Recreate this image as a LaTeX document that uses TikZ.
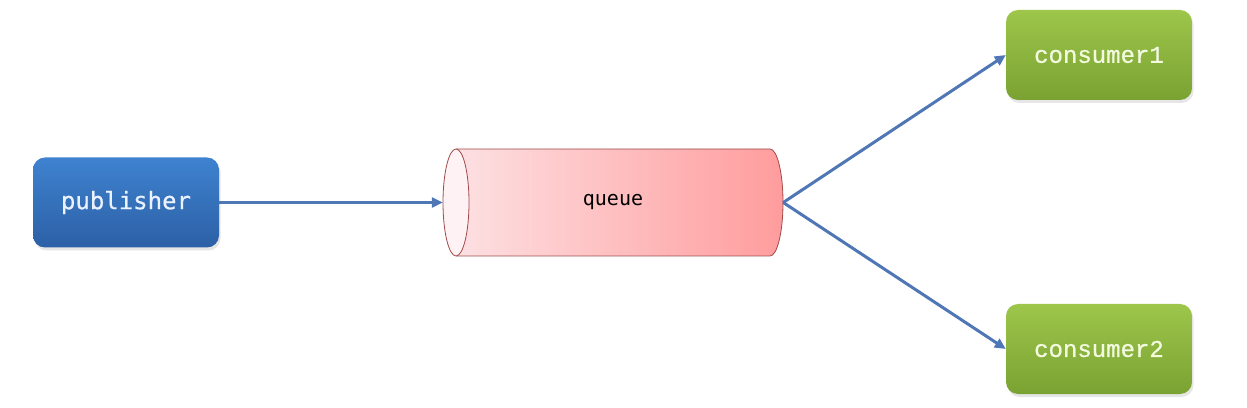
\documentclass[tikz,border=0pt]{standalone}
\usepackage{fontspec}
\usetikzlibrary{arrows.meta,shadows}
\newfontfamily\pubfont[FakeBold=0.5]{DejaVu Sans Mono}
\newfontfamily\queuefont{DejaVu Sans Mono}
\newfontfamily\consfont[FakeBold=0.8]{Liberation Mono}
\definecolor{pubtop}{HTML}{3F82CF}
\definecolor{pubbot}{HTML}{2C60A6}
\definecolor{constop}{HTML}{9DC64B}
\definecolor{consbot}{HTML}{7AA232}
\definecolor{arrowc}{HTML}{4F76B5}
\definecolor{qleft}{HTML}{FDE3E5}
\definecolor{qright}{HTML}{FF9C9D}
\definecolor{qborder}{HTML}{A04A4A}
\definecolor{qend}{HTML}{FFF2F4}
\definecolor{pubtext}{HTML}{EAF2FF}
\definecolor{constext}{HTML}{F3FAE0}
\tikzset{
  box/.style={rounded corners=12pt, minimum width=186pt, minimum height=90pt,
    drop shadow={opacity=0.2, shadow xshift=1.5pt, shadow yshift=-3pt}},
  pubbox/.style={box, top color=pubtop, bottom color=pubbot, text=pubtext,
    font=\pubfont\fontsize{24}{28}\selectfont},
  consbox/.style={box, top color=constop, bottom color=consbot, text=constext,
    font=\consfont\fontsize{24}{28}\selectfont},
  flow/.style={draw=arrowc, line width=3pt, -{Triangle[length=11pt,width=10pt]}}
}
\begin{document}
\begin{tikzpicture}[x=1pt,y=1pt]
\useasboundingbox (0,0) rectangle (1247,407);
% queue cylinder
\shade[left color=qleft, right color=qright]
  (456,258) -- (770,258) arc[start angle=90,end angle=-90,x radius=13pt,y radius=53.5pt]
  -- (456,151) arc[start angle=270,end angle=90,x radius=13pt,y radius=53.5pt] -- cycle;
\draw[qborder, line width=0.8pt]
  (456,258) -- (770,258) arc[start angle=90,end angle=-90,x radius=13pt,y radius=53.5pt]
  -- (456,151);
\draw[qborder, line width=0.8pt, fill=qend] (456,204.5) ellipse[x radius=13pt, y radius=53.5pt];
\node[minimum width=340pt, minimum height=107pt, inner sep=0pt,
  font=\queuefont\fontsize{20}{24}\selectfont] (queue) at (613,204.5) {queue};
% boxes
\node[pubbox] (pub) at (126,204.5) {publisher};
\node[consbox] (c1) at (1099,352) {consumer1};
\node[consbox] (c2) at (1099,58) {consumer2};
% arrows
\draw[flow] (pub.east) -- (queue.west);
\draw[flow] (queue.east) -- (c1.west);
\draw[flow] (queue.east) -- (c2.west);
\end{tikzpicture}
\end{document}
